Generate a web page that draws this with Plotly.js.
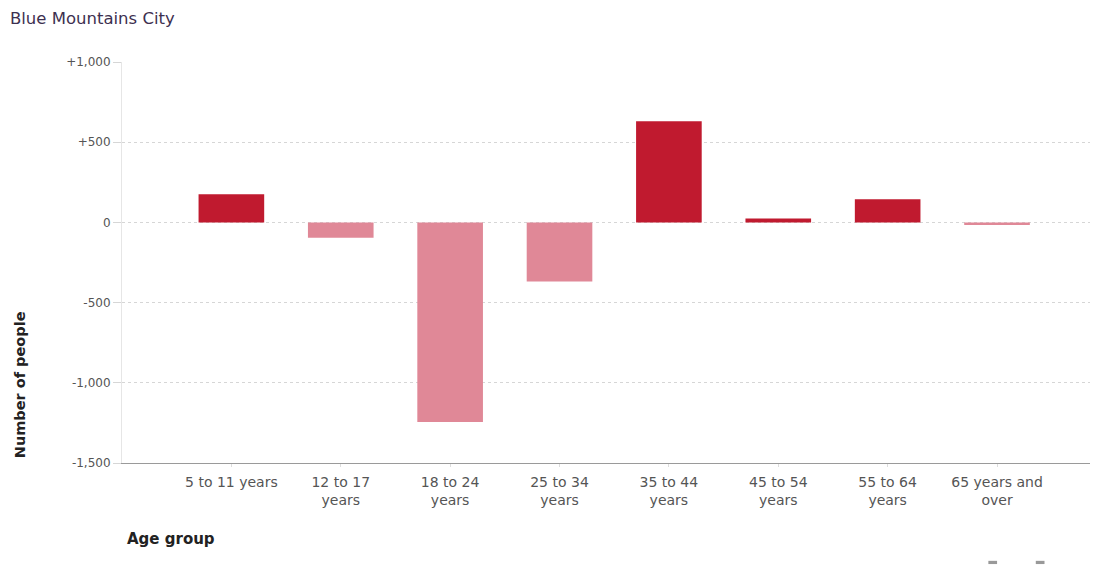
<!DOCTYPE html>
<html>
<head>
<meta charset="utf-8">
<script src="https://cdn.plot.ly/plotly-3.0.1.min.js"></script>
<style>html,body{margin:0;padding:0;background:#fff;}#chart{width:1104px;height:573px;}</style>
</head>
<body>
<div id="chart"></div>
<script>
const categories = ["5 to 11 years", "12 to 17<br>years", "18 to 24<br>years", "25 to 34<br>years", "35 to 44<br>years", "45 to 54<br>years", "55 to 64<br>years", "65 years and<br>over"];
const changeValues = [175, -96, -1244, -369, 630, 25, 144, -16];
const yTickVals = [1000, 500, 0, -500, -1000, -1500];
const yTickText = ["+1,000", "+500", "0", "-500", "-1,000", "-1,500"];

const posColor = "#C01A2F";
const negColor = "#E08897";
const barColors = changeValues.map(v => v >= 0 ? posColor : negColor);
const xIdx = categories.map((c, i) => i);

const trace = {
  type: "bar",
  x: xIdx,
  y: changeValues,
  width: 0.6,
  marker: {color: barColors, line: {width: 0}},
  hoverinfo: "y"
};

const FONT = "DejaVu Sans, Arial, sans-serif";

const layout = {
  width: 1104, height: 573,
  margin: {l: 122, r: 14, t: 62, b: 110},
  paper_bgcolor: "#fff", plot_bgcolor: "#fff",
  font: {family: FONT, size: 12, color: "#555"},
  showlegend: false,
  title: {text: "Blue Mountains City", x: 0.009, xanchor: "left", y: 0.968, yanchor: "middle",
          font: {family: FONT, size: 16.5, color: "#3d3050"}},
  xaxis: {
    range: [-1, 7.85],
    tickvals: xIdx, ticktext: categories,
    showgrid: false, zeroline: false,
    showline: true, linecolor: "#9a9a9a", linewidth: 1,
    ticks: "outside", ticklen: 3, tickcolor: "#ddd",
    ticklabelstandoff: 3,
    tickfont: {family: FONT, size: 14, color: "#555"},
    fixedrange: true
  },
  yaxis: {
    range: [-1500, 1000],
    tickvals: yTickVals, ticktext: yTickText,
    showgrid: true, gridcolor: "#d6d6d6", griddash: "dot", gridwidth: 1,
    zeroline: false,
    showline: true, linecolor: "#e6e6e6", linewidth: 1,
    ticks: "outside", ticklen: 8, tickcolor: "#d6d6d6",
    tickfont: {family: FONT, size: 12, color: "#555"},
    fixedrange: true
  },
  annotations: [
    {text: "<b>Number of people</b>", textangle: -90, xref: "paper", yref: "paper",
     x: -0.106, y: 0.195, xanchor: "center", yanchor: "middle", showarrow: false,
     font: {family: FONT, size: 14.5, color: "#222"}},
    {text: "<b>Age group</b>", xref: "paper", yref: "paper",
     x: 0.003, y: -0.19, xanchor: "left", yanchor: "middle", showarrow: false,
     font: {family: FONT, size: 15, color: "#222"}}
  ],
  shapes: [
    {type: "rect", xref: "paper", yref: "paper", x0: 0.895, x1: 0.904, y0: -0.252, y1: -0.244,
     fillcolor: "#999", line: {width: 0}},
    {type: "rect", xref: "paper", yref: "paper", x0: 0.944, x1: 0.953, y0: -0.252, y1: -0.244,
     fillcolor: "#999", line: {width: 0}}
  ]
};

Plotly.newPlot("chart", [trace], layout, {displayModeBar: false, staticPlot: true});
</script>
</body>
</html>
